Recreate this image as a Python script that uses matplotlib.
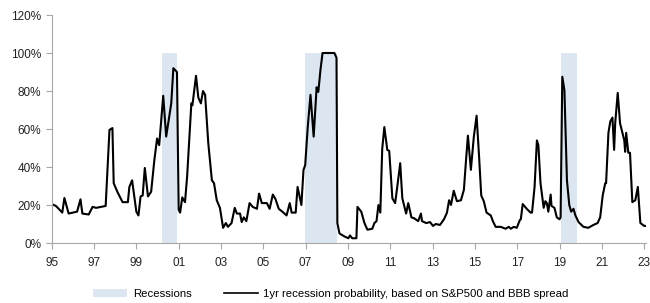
import matplotlib.pyplot as plt
from matplotlib.patches import Patch
from matplotlib.lines import Line2D

plt.rcParams["font.family"] = ["Liberation Sans", "DejaVu Sans"]

# (decimal year, probability %)
years = [
    1995.0, 1995.2, 1995.5, 1995.6, 1995.8, 1996.0, 1996.2, 1996.36, 1996.45,
    1996.75, 1996.93, 1997.1, 1997.55, 1997.73, 1997.87, 1997.93, 1998.1,
    1998.35, 1998.6, 1998.67, 1998.8, 1999.0, 1999.1, 1999.2, 1999.3, 1999.4,
    1999.55, 1999.7, 1999.85, 1999.98, 2000.08, 2000.27, 2000.41, 2000.65,
    2000.75, 2000.92, 2001.0, 2001.07, 2001.17, 2001.3, 2001.4, 2001.6,
    2001.65, 2001.82, 2001.93, 2002.05, 2002.15, 2002.25, 2002.4, 2002.57,
    2002.67, 2002.8, 2002.95, 2003.1, 2003.23, 2003.33, 2003.5, 2003.65,
    2003.75, 2003.9, 2003.98, 2004.08, 2004.2, 2004.35, 2004.5, 2004.7,
    2004.8, 2004.93, 2005.17, 2005.3, 2005.45, 2005.58, 2005.73, 2005.9,
    2006.1, 2006.25, 2006.34, 2006.53, 2006.62, 2006.8, 2006.9, 2006.98,
    2007.1, 2007.23, 2007.38, 2007.52, 2007.6, 2007.7, 2007.8, 2008.36,
    2008.46, 2008.5, 2008.6, 2008.83, 2009.02, 2009.1, 2009.2, 2009.4,
    2009.45, 2009.63, 2009.78, 2009.92, 2010.15, 2010.25, 2010.35, 2010.44,
    2010.53, 2010.62, 2010.72, 2010.86, 2010.95, 2011.1, 2011.23, 2011.33,
    2011.47, 2011.57, 2011.75, 2011.85, 2012.0, 2012.13, 2012.32, 2012.45,
    2012.5, 2012.7, 2012.88, 2013.02, 2013.15, 2013.35, 2013.54, 2013.68,
    2013.78, 2013.87, 2014.0, 2014.15, 2014.34, 2014.48, 2014.58, 2014.67,
    2014.81, 2014.95, 2015.08, 2015.2, 2015.3, 2015.42, 2015.55, 2015.75,
    2015.85, 2015.98, 2016.22, 2016.45, 2016.6, 2016.7, 2016.83, 2016.98,
    2017.12, 2017.17, 2017.26, 2017.45, 2017.63, 2017.7, 2017.82, 2017.93,
    2018.0, 2018.1, 2018.25, 2018.33, 2018.4, 2018.47, 2018.58, 2018.62,
    2018.76, 2018.87, 2019.0, 2019.05, 2019.13, 2019.23, 2019.35, 2019.46,
    2019.55, 2019.66, 2019.75, 2019.9, 2020.13, 2020.36, 2020.6, 2020.8,
    2020.92, 2021.04, 2021.16, 2021.2, 2021.31, 2021.4, 2021.5, 2021.58,
    2021.63, 2021.75, 2021.86, 2021.97, 2022.06, 2022.1, 2022.15, 2022.25,
    2022.33, 2022.44, 2022.58, 2022.7, 2022.82, 2023.0, 2023.08,
]
probability = [
    20.5, 19.5, 16.0, 23.7, 15.5, 16.0, 16.5, 23.0, 15.5,
    15.0, 19.0, 18.5, 19.5, 59.5, 60.5, 31.5, 27.0,
    21.5, 21.5, 29.5, 33.0, 16.5, 14.5, 24.5, 25.0, 39.5,
    24.5, 27.0, 43.5, 55.0, 51.5, 77.5, 56.0, 73.5,
    92.0, 90.0, 17.5, 16.0, 24.0, 21.5, 35.0, 73.5,
    72.5, 88.0, 76.5, 73.5, 80.0, 78.0, 52.5, 33.0,
    31.5, 22.5, 18.5, 8.0, 10.5, 8.5, 10.5, 18.5,
    15.5, 15.5, 11.0, 13.5, 11.5, 21.0, 19.0, 18.0,
    26.0, 21.0, 21.0, 18.0, 25.5, 23.0, 18.0, 16.5,
    14.5, 21.0, 16.0, 16.0, 29.5, 20.0, 38.5, 41.0,
    61.0, 78.0, 56.0, 82.0, 79.5, 91.0, 100.0, 100.0,
    97.5, 10.5, 5.0, 3.5, 2.5, 4.0, 2.5, 2.5,
    19.0, 16.5, 10.5, 7.0, 7.5, 10.5, 11.5, 20.0,
    16.0, 49.5, 61.0, 49.0, 48.5, 23.5, 21.0, 29.5,
    42.0, 23.5, 15.5, 21.0, 13.5, 13.0, 11.5, 15.5,
    11.5, 10.5, 11.0, 9.0, 10.0, 9.5, 12.5, 16.0,
    22.5, 20.0, 27.5, 22.0, 22.5, 28.0, 43.5, 56.5,
    38.5, 56.0, 67.0, 45.0, 25.0, 22.0, 16.0, 14.5,
    11.5, 8.5, 8.5, 7.5, 8.5, 7.5, 8.5, 8.0,
    12.0, 12.5, 20.5, 18.0, 16.0, 16.0, 29.5, 54.0,
    51.5, 31.5, 18.5, 22.0, 21.0, 16.5, 25.5, 19.5,
    18.5, 13.5, 12.5, 13.5, 87.5, 80.5, 33.0, 20.0,
    16.5, 18.0, 14.5, 11.0, 8.5, 8.0, 9.5, 10.5,
    13.5, 25.0, 31.5, 31.5, 58.0, 64.0, 66.0, 49.0,
    63.0, 79.0, 63.0, 58.0, 54.0, 48.0, 58.0, 47.5,
    47.5, 21.5, 22.5, 29.5, 10.5, 9.0, 9.0,
]

recession_start = [2000.22, 2006.95, 2019.07]
recession_end = [2000.93, 2008.5, 2019.82]

tick_years = list(range(1995, 2024, 2))
tick_labels = [f"{y % 100:02d}" for y in tick_years]

fig = plt.figure(figsize=(6.5, 3.03), dpi=100)
px_per_year = 21.16
x_left = 51.7
x_span = 28.1
ax = fig.add_axes([x_left / 650, 1 - 243 / 303,
                   x_span * px_per_year / 650, 228 / 303])

shade = "#dce6f1"
for start, end in zip(recession_start, recession_end):
    ax.axvspan(start, end, ymin=0, ymax=100 / 120, color=shade, lw=0)

ax.plot(years, probability, color="black", lw=1.5)

ax.set_xlim(1995, 1995 + x_span)
ax.set_ylim(0, 120)
ax.set_yticks(range(0, 121, 20))
ax.set_yticklabels([f"{v}%" for v in range(0, 121, 20)])
ax.set_xticks(tick_years)
ax.set_xticklabels(tick_labels)

for side in ["top", "right"]:
    ax.spines[side].set_visible(False)
for side in ["left", "bottom"]:
    ax.spines[side].set_color("#a6a6a6")
ax.tick_params(axis="both", colors="#a6a6a6", labelcolor="#222222",
               labelsize=8.5, length=4, width=0.8)
ax.tick_params(axis="x", pad=6)

handles = [
    Patch(facecolor=shade, edgecolor="none"),
    Line2D([], [], color="black", lw=1.2),
]
labels = ["Recessions",
          "1yr recession probability, based on S&P500 and BBB spread"]
fig.legend(handles, labels, loc="center",
           bbox_to_anchor=(0.5 + 6 / 650, 1 - 294 / 303),
           ncol=2, frameon=False, fontsize=8.2, handlelength=3.0,
           columnspacing=2.8, handletextpad=0.5)

fig.savefig("out.png", dpi=100)
